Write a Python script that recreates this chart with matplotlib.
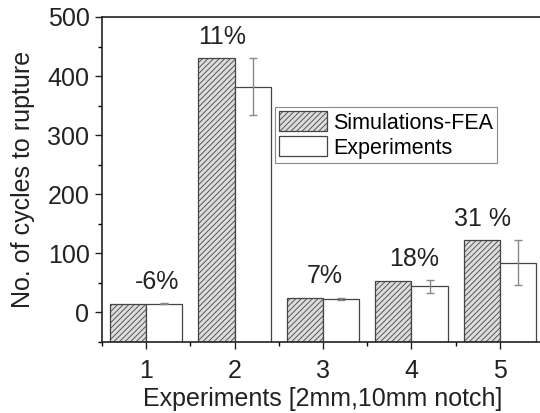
import matplotlib
matplotlib.use("Agg")
import numpy as np
import matplotlib.pyplot as plt
from matplotlib.ticker import MultipleLocator

plt.rcParams['font.family'] = ['Liberation Sans', 'DejaVu Sans']
plt.rcParams['hatch.linewidth'] = 0.6
plt.rcParams['hatch.color'] = '#555555'

experiments = [1, 2, 3, 4, 5]
simulations = [15, 430, 25, 54, 122]
measured = [15, 382, 23, 44, 84]
measured_err = [1, 48, 2, 11, 38]
diff_labels = ['-6%', '11%', '7%', '18%', '31 %']
label_dx = [0.12, -0.14, 0.02, 0.03, -0.2]

x = np.array(experiments)
w = 0.41

fig = plt.figure(figsize=(5.4, 4.13), dpi=100)
ax = fig.add_axes([102 / 540, 1 - 342 / 413, 442 / 540, 325 / 413])

ax.bar(x - w / 2, simulations, w, color='#dcdcdc', edgecolor='#444444',
       hatch='//////', linewidth=0.9, label='Simulations-FEA')
ax.bar(x + w / 2, measured, w, color='white', edgecolor='#444444',
       linewidth=0.9, label='Experiments')
# bars start at the lower edge like in the original plot
for p in ax.patches:
    p.set_y(-50)
    p.set_height(p.get_height() + 50)

ax.errorbar(x + w / 2, measured, yerr=measured_err, fmt='none', ecolor='#888888',
            elinewidth=1.0, capsize=3, capthick=1.0)

for xi, s, m, e, lab, dx in zip(x, simulations, measured, measured_err, diff_labels, label_dx):
    top = max(s, m + e)
    ax.text(xi + dx, top + 36, lab, ha='center', va='center', fontsize=18, color='#222222')

ax.set_xlim(0.5, 5.5)
ax.set_ylim(-50, 500)
ax.set_xticks(experiments)
ax.yaxis.set_major_locator(MultipleLocator(100))
ax.yaxis.set_minor_locator(MultipleLocator(50))
ax.set_xticks([0.5, 1.5, 2.5, 3.5, 4.5], minor=True)
ax.tick_params(which='major', direction='out', length=5, width=1, labelsize=18,
               colors='#222222', pad=4)
ax.tick_params(axis='x', which='major', pad=7)
ax.tick_params(which='minor', direction='out', length=3, width=1)
for sp in ax.spines.values():
    sp.set_linewidth(1.2)
    sp.set_color('#222222')

ax.set_xlabel('Experiments [2mm,10mm notch]', fontsize=18, color='#222222', labelpad=3)
ax.set_ylabel('No. of cycles to rupture', fontsize=18, color='#222222', labelpad=9)

leg = ax.legend(loc='upper left', bbox_to_anchor=(275 / 540, 1 - 107 / 413),
                bbox_transform=fig.transFigure, fontsize=15.5, fancybox=False,
                edgecolor='#888888', framealpha=1, handlelength=2.2, handleheight=1.05,
                handletextpad=0.3, borderpad=0.2, labelspacing=0.12, borderaxespad=0)
leg.get_frame().set_linewidth(0.8)

fig.savefig('out.png', dpi=100)
